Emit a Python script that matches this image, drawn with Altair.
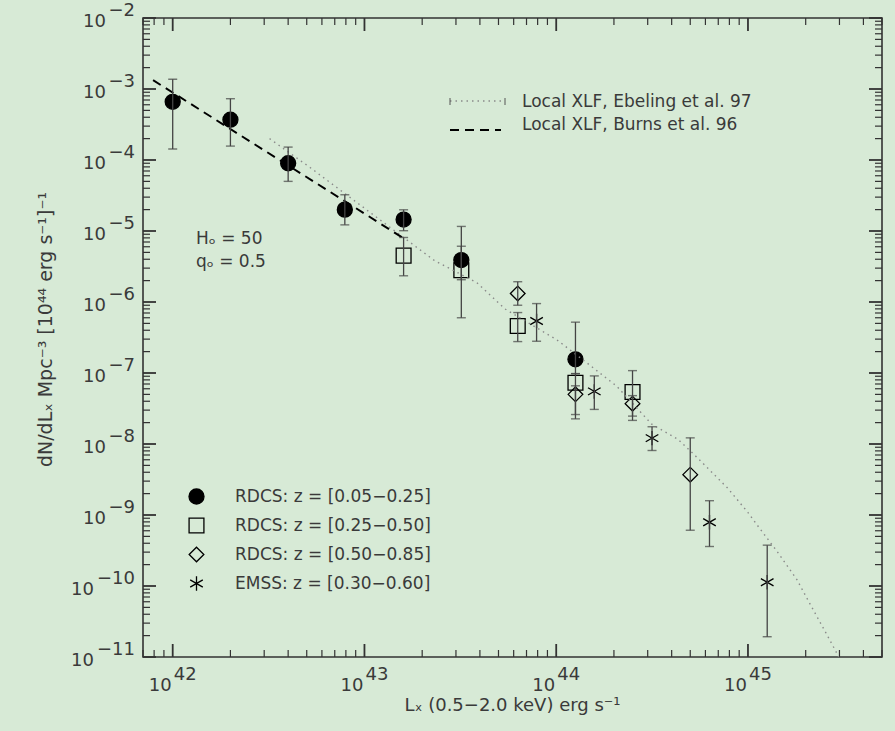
import altair as alt
import pandas as pd

FONT = "DejaVu Sans"
TXT = "#3a3a3a"
BG = "#d7ead6"
W, H = 739, 639

SERIES = ["RDCS: z = [0.05−0.25]", "RDCS: z = [0.25−0.50]",
          "RDCS: z = [0.50−0.85]", "EMSS: z = [0.30−0.60]"]

# RDCS z = [0.05-0.25]  (filled circles)
c_x = [1.0e42, 2.0e42, 4.0e42, 7.9e42, 1.6e43, 3.2e43, 1.26e44]
c_y = [6.6e-4, 3.7e-4, 9.0e-5, 2.0e-5, 1.45e-5, 3.9e-6, 1.56e-7]
c_lo = [1.43e-4, 1.57e-4, 5.0e-5, 1.22e-5, 1.01e-5, 2.06e-6, 9.8e-8]
c_hi = [1.37e-3, 7.3e-4, 1.52e-4, 3.24e-5, 1.99e-5, 6.1e-6, 5.2e-7]

# RDCS z = [0.25-0.50]  (squares)
s_x = [1.6e43, 3.2e43, 6.3e43, 1.26e44, 2.5e44]
s_y = [4.5e-6, 2.8e-6, 4.6e-7, 7.3e-8, 5.4e-8]
s_lo = [2.34e-6, 6.0e-7, 2.77e-7, 2.6e-8, 2.47e-8]
s_hi = [8.1e-6, 1.16e-5, 7.1e-7, 9.8e-8, 1.08e-7]

# RDCS z = [0.50-0.85]  (diamonds)
d_x = [6.3e43, 1.26e44, 2.5e44, 5.0e44]
d_y = [1.32e-6, 5.0e-8, 3.7e-8, 3.7e-9]
d_lo = [9.0e-7, 2.26e-8, 2.15e-8, 6.1e-10]
d_hi = [1.93e-6, 6.6e-8, 4.8e-8, 1.22e-8]

# EMSS z = [0.30-0.60]  (asterisks)
e_x = [7.9e43, 1.58e44, 3.16e44, 6.3e44, 1.26e45]
e_y = [5.4e-7, 5.5e-8, 1.21e-8, 7.9e-10, 1.13e-10]
e_lo = [2.8e-7, 3.07e-8, 8.1e-9, 3.6e-10, 1.93e-11]
e_hi = [9.5e-7, 9.1e-8, 1.75e-8, 1.59e-9, 3.76e-10]

# Local XLF, Burns et al. 96 (dashed)
burns_x = [7.9e41, 1.58e43]
burns_y = [1.33e-3, 8.07e-6]

# Local XLF, Ebeling et al. 97 (dotted)
ebel_x = [3.2e42, 5.2e42, 1.77e43, 2.33e43, 3.86e43, 5.4e43, 1.01e44, 1.45e44,
          2.07e44, 3.15e44, 4.31e44, 5.48e44, 7.85e44, 9.98e44, 1.15e45,
          1.42e45, 1.80e45, 2.05e45, 2.58e45, 2.94e45, 3.16e45]
ebel_y = [2.0e-4, 7.85e-5, 6.6e-6, 3.8e-6, 1.87e-6, 8.0e-7, 2.92e-7, 1.38e-7,
          6.5e-8, 1.9e-8, 1.17e-8, 6.3e-9, 2.38e-9, 1.09e-9, 6.5e-10,
          3.06e-10, 1.23e-10, 6.4e-11, 2.06e-11, 1.07e-11, 6.0e-12]

X_DEC = [1e42, 1e43, 1e44, 1e45]
X_EXP = ["42", "43", "44", "45"]
Y_DEC = [1e-2, 1e-3, 1e-4, 1e-5, 1e-6, 1e-7, 1e-8, 1e-9, 1e-10, 1e-11]
Y_EXP = ["−2", "−3", "−4", "−5", "−6", "−7", "−8", "−9", "−10", "−11"]

X_TITLE = "Lₓ (0.5−2.0 keV) erg s⁻¹"
Y_TITLE = "dN/dLₓ Mpc⁻³ [10⁴⁴ erg s⁻¹]⁻¹"
MODELS = ["Local XLF, Ebeling et al. 97", "Local XLF, Burns et al. 96"]
PARAMS = ["Hₒ = 50", "qₒ = 0.5"]

XDOM = [7e41, 5e45]
YDOM = [1e-11, 1e-2]

rows = []
for name, xs_, ys_, lo_, hi_ in [(SERIES[0], c_x, c_y, c_lo, c_hi),
                                 (SERIES[1], s_x, s_y, s_lo, s_hi),
                                 (SERIES[2], d_x, d_y, d_lo, d_hi),
                                 (SERIES[3], e_x, e_y, e_lo, e_hi)]:
    for a, b, l, h in zip(xs_, ys_, lo_, hi_):
        rows.append({"series": name, "x": a, "y": b, "lo": l, "hi": h})
pts = pd.DataFrame(rows)

xs = alt.Scale(type="log", domain=XDOM)
ys = alt.Scale(type="log", domain=YDOM)


def minor_ticks(lo_exp, hi_exp, dom):
    out = []
    for e in range(lo_exp, hi_exp + 1):
        for m in range(2, 10):
            v = float(f"{m}e{e}")
            if dom[0] * 0.999 <= v <= dom[1] * 1.001:
                out.append(v)
    return out


xmaj = pd.DataFrame({"v": X_DEC})
xmin = pd.DataFrame({"v": minor_ticks(41, 45, XDOM)})
ymaj = pd.DataFrame({"v": Y_DEC})
ymin = pd.DataFrame({"v": minor_ticks(-11, -3, YDOM)})

AXC = "#333333"
MAJ, MIN = 13, 7


def xticks(df, length, sw):
    b = alt.Chart(df).mark_rule(color=AXC, strokeWidth=sw).encode(
        x=alt.X("v:Q", scale=xs, axis=None), y=alt.value(H), y2=alt.value(H - length))
    t = alt.Chart(df).mark_rule(color=AXC, strokeWidth=sw).encode(
        x=alt.X("v:Q", scale=xs, axis=None), y=alt.value(0), y2=alt.value(length))
    return [b, t]


def yticks(df, length, sw):
    l = alt.Chart(df).mark_rule(color=AXC, strokeWidth=sw).encode(
        y=alt.Y("v:Q", scale=ys, axis=None), x=alt.value(0), x2=alt.value(length))
    r = alt.Chart(df).mark_rule(color=AXC, strokeWidth=sw).encode(
        y=alt.Y("v:Q", scale=ys, axis=None), x=alt.value(W), x2=alt.value(W - length))
    return [l, r]


tick_layers = (xticks(xmaj, MAJ, 1.8) + xticks(xmin, MIN, 1.2) +
               yticks(ymaj, MAJ, 1.8) + yticks(ymin, MIN, 1.2))

# tick labels (10 with raised exponent)
xl = pd.DataFrame({"v": X_DEC, "e": X_EXP})
yl = pd.DataFrame({"v": Y_DEC, "e": Y_EXP})
LFS = 18
x_ten = alt.Chart(xl).mark_text(align="right", baseline="middle", font=FONT, fontSize=LFS,
                                color=TXT, dx=-1).encode(
    x=alt.X("v:Q", scale=xs, axis=None), y=alt.value(H + 29), text=alt.value("10"))
x_exp = alt.Chart(xl).mark_text(align="left", baseline="middle", font=FONT, fontSize=LFS,
                                color=TXT, dx=1).encode(
    x=alt.X("v:Q", scale=xs, axis=None), y=alt.value(H + 18), text="e:N")
y_exp = alt.Chart(yl).mark_text(align="right", baseline="middle", font=FONT, fontSize=LFS,
                                color=TXT, dy=-7).encode(
    y=alt.Y("v:Q", scale=ys, axis=None), x=alt.value(-8), text="e:N")
y_ten1 = alt.Chart(yl).transform_filter("length(datum.e) <= 2").mark_text(
    align="right", baseline="middle", font=FONT, fontSize=LFS, color=TXT, dy=4).encode(
    y=alt.Y("v:Q", scale=ys, axis=None), x=alt.value(-37), text=alt.value("10"))
y_ten2 = alt.Chart(yl).transform_filter("length(datum.e) > 2").mark_text(
    align="right", baseline="middle", font=FONT, fontSize=LFS, color=TXT, dy=4).encode(
    y=alt.Y("v:Q", scale=ys, axis=None), x=alt.value(-49), text=alt.value("10"))

# axis titles
titles = pd.DataFrame({"t": [X_TITLE, Y_TITLE]})
x_title = alt.Chart(titles).transform_filter(alt.datum.t == X_TITLE).mark_text(
    align="center", baseline="middle", font=FONT, fontSize=18, color=TXT).encode(
    x=alt.value(W / 2), y=alt.value(H + 49), text="t:N")
y_title = alt.Chart(titles).transform_filter(alt.datum.t == Y_TITLE).mark_text(
    align="center", baseline="middle", font=FONT, fontSize=19, color=TXT, angle=270).encode(
    x=alt.value(-97), y=alt.value(H / 2 - 8), text="t:N")

# model lines
burns = pd.DataFrame({"x": burns_x, "y": burns_y})
ebel = pd.DataFrame({"x": ebel_x, "y": ebel_y})
burns_line = alt.Chart(burns).mark_line(color="black", strokeDash=[9, 6], strokeWidth=2).encode(
    x=alt.X("x:Q", scale=xs, axis=None), y=alt.Y("y:Q", scale=ys, axis=None))
ebel_line = alt.Chart(ebel).mark_line(color="#8a8a8a", strokeDash=[1.5, 4], strokeWidth=1.4,
                                      clip=True).encode(
    x=alt.X("x:Q", scale=xs, axis=None), y=alt.Y("y:Q", scale=ys, axis=None))

# error bars
err = alt.Chart(pts).mark_rule(color="#444444", strokeWidth=1.3).encode(
    x=alt.X("x:Q", scale=xs, axis=None), y=alt.Y("lo:Q", scale=ys, axis=None), y2="hi:Q")
caps = alt.Chart(pts).transform_fold(["lo", "hi"], as_=["k", "val"]).mark_tick(
    orient="horizontal", size=9, thickness=1.4, color="#444444").encode(
    x=alt.X("x:Q", scale=xs, axis=None), y=alt.Y("val:Q", scale=ys, axis=None))

ASTER = "M0,-1L0,1M-0.87,-0.5L0.87,0.5M-0.87,0.5L0.87,-0.5"
leg = alt.Legend(orient="none", legendX=45, legendY=470, title=None, labelFont=FONT,
                 labelFontSize=17, labelColor=TXT, rowPadding=8, labelOffset=30,
                 labelLimit=0, symbolStrokeColor="black", symbolStrokeWidth=1.3)
points = alt.Chart(pts).mark_point(strokeWidth=1.3, opacity=1).encode(
    x=alt.X("x:Q", scale=xs, axis=None),
    y=alt.Y("y:Q", scale=ys, axis=None),
    shape=alt.Shape("series:N", scale=alt.Scale(domain=SERIES,
                                                range=["circle", "square", "diamond", ASTER]),
                    legend=leg),
    fill=alt.Fill("series:N", scale=alt.Scale(domain=SERIES,
                                              range=["black", "transparent", "transparent",
                                                     "transparent"]), legend=leg),
    stroke=alt.Stroke("series:N", scale=alt.Scale(domain=SERIES,
                                                  range=["black", "black", "black", "black"]),
                      legend=leg),
    size=alt.Size("series:N", scale=alt.Scale(domain=SERIES, range=[225, 210, 256, 330]),
                  legend=leg),
)

# annotation text
ann = pd.DataFrame({"t": PARAMS})
h0 = alt.Chart(ann).transform_filter(alt.datum.t == PARAMS[0]).mark_text(
    align="left", baseline="middle", font=FONT, fontSize=17, color=TXT).encode(
    x=alt.value(53), y=alt.value(221), text="t:N")
q0 = alt.Chart(ann).transform_filter(alt.datum.t == PARAMS[1]).mark_text(
    align="left", baseline="middle", font=FONT, fontSize=17, color=TXT).encode(
    x=alt.value(53), y=alt.value(244), text="t:N")

# model legend (top right)
mleg = pd.DataFrame({"t": MODELS})
f1 = alt.datum.t == MODELS[0]
f2 = alt.datum.t == MODELS[1]
m1_sym = alt.Chart(mleg).transform_filter(f1).mark_rule(
    color="#8a8a8a", strokeDash=[1.5, 4], strokeWidth=1.4).encode(
    x=alt.value(307), x2=alt.value(362), y=alt.value(83))
m1_end = alt.Chart(mleg).transform_filter(f1).mark_rule(
    color="#555555", strokeWidth=1).encode(
    x=alt.value(307), y=alt.value(80), y2=alt.value(87))
m1_end2 = alt.Chart(mleg).transform_filter(f1).mark_rule(
    color="#555555", strokeWidth=1).encode(
    x=alt.value(362), y=alt.value(80), y2=alt.value(87))
m1_txt = alt.Chart(mleg).transform_filter(f1).mark_text(
    align="left", baseline="middle", font=FONT, fontSize=17, color=TXT).encode(
    x=alt.value(379), y=alt.value(84), text="t:N")
m2_sym = alt.Chart(mleg).transform_filter(f2).mark_rule(
    color="black", strokeDash=[9, 6], strokeWidth=2).encode(
    x=alt.value(307), x2=alt.value(358), y=alt.value(112))
m2_txt = alt.Chart(mleg).transform_filter(f2).mark_text(
    align="left", baseline="middle", font=FONT, fontSize=17, color=TXT).encode(
    x=alt.value(379), y=alt.value(107), text="t:N")

chart = alt.layer(
    points, *tick_layers, ebel_line, burns_line, err, caps,
    x_ten, x_exp, y_exp, y_ten1, y_ten2, x_title, y_title, h0, q0,
    m1_sym, m1_end, m1_end2, m1_txt, m2_sym, m2_txt,
).properties(
    width=W, height=H,
    autosize=alt.AutoSizeParams(type="none"),
    padding={"left": 143, "top": 18, "right": 13, "bottom": 74},
    background=BG,
).configure_view(stroke=AXC, strokeWidth=1.6)

chart.save("out.html", embed_options={"renderer": "svg", "actions": False})
